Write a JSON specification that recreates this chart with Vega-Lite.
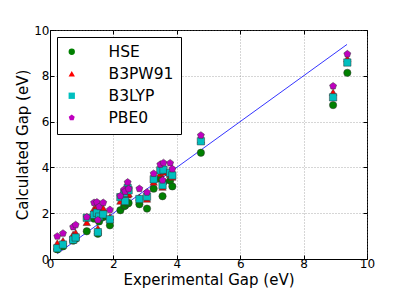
{
  "$schema": "https://vega.github.io/schema/vega-lite/v6.json",
  "width": 317,
  "height": 229,
  "autosize": {"type": "none"},
  "padding": {"left": 50, "top": 30, "right": 40, "bottom": 46},
  "background": "white",
  "config": {
    "font": "DejaVu Sans",
    "view": {"stroke": "black", "strokeWidth": 1},
    "axis": {
      "domainColor": "black",
      "tickColor": "black",
      "tickSize": -4,
      "labelColor": "black",
      "labelFontSize": 12,
      "labelFont": "DejaVu Sans",
      "labelFlush": false,
      "labelOverlap": false,
      "titleFont": "DejaVu Sans",
      "titleFontSize": 15,
      "titleFontWeight": "normal",
      "titleColor": "black",
      "gridColor": "#777777",
      "gridDash": [1, 2],
      "gridWidth": 0.6
    }
  },
  "datasets": {
    "line": [
      {"exp": 0.23, "calc": 0.23},
      {"exp": 9.37, "calc": 9.37}
    ],
    "gaps": [
      {"exp": 0.23, "method": "HSE", "calc": 0.42},
      {"exp": 0.41, "method": "HSE", "calc": 0.55},
      {"exp": 0.73, "method": "HSE", "calc": 0.80},
      {"exp": 0.81, "method": "HSE", "calc": 0.88},
      {"exp": 1.16, "method": "HSE", "calc": 1.21},
      {"exp": 1.39, "method": "HSE", "calc": 1.76},
      {"exp": 1.48, "method": "HSE", "calc": 1.80},
      {"exp": 1.51, "method": "HSE", "calc": 1.10},
      {"exp": 1.55, "method": "HSE", "calc": 1.64},
      {"exp": 1.68, "method": "HSE", "calc": 1.83},
      {"exp": 1.89, "method": "HSE", "calc": 1.47},
      {"exp": 2.22, "method": "HSE", "calc": 2.13},
      {"exp": 2.34, "method": "HSE", "calc": 2.31},
      {"exp": 2.37, "method": "HSE", "calc": 2.33},
      {"exp": 2.45, "method": "HSE", "calc": 2.42},
      {"exp": 2.48, "method": "HSE", "calc": 2.45},
      {"exp": 2.82, "method": "HSE", "calc": 2.39},
      {"exp": 3.06, "method": "HSE", "calc": 2.20},
      {"exp": 3.27, "method": "HSE", "calc": 3.07},
      {"exp": 3.48, "method": "HSE", "calc": 3.50},
      {"exp": 3.55, "method": "HSE", "calc": 2.74},
      {"exp": 3.58, "method": "HSE", "calc": 3.36},
      {"exp": 3.79, "method": "HSE", "calc": 3.42},
      {"exp": 3.86, "method": "HSE", "calc": 3.17},
      {"exp": 4.76, "method": "HSE", "calc": 4.64},
      {"exp": 8.93, "method": "HSE", "calc": 6.72},
      {"exp": 9.38, "method": "HSE", "calc": 8.13},
      {"exp": 0.23, "method": "B3PW91", "calc": 0.70},
      {"exp": 0.41, "method": "B3PW91", "calc": 0.80},
      {"exp": 0.73, "method": "B3PW91", "calc": 1.08},
      {"exp": 0.81, "method": "B3PW91", "calc": 1.15},
      {"exp": 1.16, "method": "B3PW91", "calc": 1.60},
      {"exp": 1.39, "method": "B3PW91", "calc": 2.20},
      {"exp": 1.48, "method": "B3PW91", "calc": 2.30},
      {"exp": 1.51, "method": "B3PW91", "calc": 1.35},
      {"exp": 1.55, "method": "B3PW91", "calc": 2.05},
      {"exp": 1.68, "method": "B3PW91", "calc": 2.22},
      {"exp": 1.89, "method": "B3PW91", "calc": 1.85},
      {"exp": 2.22, "method": "B3PW91", "calc": 2.53},
      {"exp": 2.34, "method": "B3PW91", "calc": 2.90},
      {"exp": 2.37, "method": "B3PW91", "calc": 2.70},
      {"exp": 2.45, "method": "B3PW91", "calc": 2.80},
      {"exp": 2.48, "method": "B3PW91", "calc": 2.85},
      {"exp": 2.82, "method": "B3PW91", "calc": 2.70},
      {"exp": 3.06, "method": "B3PW91", "calc": 2.62},
      {"exp": 3.27, "method": "B3PW91", "calc": 3.36},
      {"exp": 3.48, "method": "B3PW91", "calc": 3.73},
      {"exp": 3.55, "method": "B3PW91", "calc": 3.14},
      {"exp": 3.58, "method": "B3PW91", "calc": 3.80},
      {"exp": 3.79, "method": "B3PW91", "calc": 3.70},
      {"exp": 3.86, "method": "B3PW91", "calc": 3.58},
      {"exp": 4.76, "method": "B3PW91", "calc": 5.20},
      {"exp": 8.93, "method": "B3PW91", "calc": 7.28},
      {"exp": 9.38, "method": "B3PW91", "calc": 8.75},
      {"exp": 0.23, "method": "B3LYP", "calc": 0.47},
      {"exp": 0.41, "method": "B3LYP", "calc": 0.63},
      {"exp": 0.73, "method": "B3LYP", "calc": 0.84},
      {"exp": 0.81, "method": "B3LYP", "calc": 0.94},
      {"exp": 1.16, "method": "B3LYP", "calc": 1.80},
      {"exp": 1.39, "method": "B3LYP", "calc": 1.93},
      {"exp": 1.48, "method": "B3LYP", "calc": 2.02},
      {"exp": 1.51, "method": "B3LYP", "calc": 1.17},
      {"exp": 1.55, "method": "B3LYP", "calc": 1.85},
      {"exp": 1.68, "method": "B3LYP", "calc": 1.95},
      {"exp": 1.89, "method": "B3LYP", "calc": 1.73},
      {"exp": 2.22, "method": "B3LYP", "calc": 2.70},
      {"exp": 2.34, "method": "B3LYP", "calc": 2.88},
      {"exp": 2.37, "method": "B3LYP", "calc": 2.53},
      {"exp": 2.45, "method": "B3LYP", "calc": 3.10},
      {"exp": 2.48, "method": "B3LYP", "calc": 3.00},
      {"exp": 2.82, "method": "B3LYP", "calc": 2.62},
      {"exp": 3.06, "method": "B3LYP", "calc": 2.72},
      {"exp": 3.27, "method": "B3LYP", "calc": 3.48},
      {"exp": 3.48, "method": "B3LYP", "calc": 3.87},
      {"exp": 3.55, "method": "B3LYP", "calc": 3.22},
      {"exp": 3.58, "method": "B3LYP", "calc": 3.90},
      {"exp": 3.79, "method": "B3LYP", "calc": 3.76},
      {"exp": 3.86, "method": "B3LYP", "calc": 3.65},
      {"exp": 4.76, "method": "B3LYP", "calc": 5.14},
      {"exp": 8.93, "method": "B3LYP", "calc": 7.06},
      {"exp": 9.38, "method": "B3LYP", "calc": 8.58},
      {"exp": 0.23, "method": "PBE0", "calc": 0.99},
      {"exp": 0.41, "method": "PBE0", "calc": 1.12},
      {"exp": 0.73, "method": "PBE0", "calc": 1.40},
      {"exp": 0.81, "method": "PBE0", "calc": 1.49},
      {"exp": 1.16, "method": "PBE0", "calc": 1.83},
      {"exp": 1.39, "method": "PBE0", "calc": 2.46},
      {"exp": 1.48, "method": "PBE0", "calc": 2.48},
      {"exp": 1.51, "method": "PBE0", "calc": 1.70},
      {"exp": 1.55, "method": "PBE0", "calc": 2.28},
      {"exp": 1.68, "method": "PBE0", "calc": 2.46},
      {"exp": 1.89, "method": "PBE0", "calc": 2.15},
      {"exp": 2.22, "method": "PBE0", "calc": 2.75},
      {"exp": 2.34, "method": "PBE0", "calc": 3.03},
      {"exp": 2.37, "method": "PBE0", "calc": 2.95},
      {"exp": 2.45, "method": "PBE0", "calc": 3.35},
      {"exp": 2.48, "method": "PBE0", "calc": 3.06},
      {"exp": 2.82, "method": "PBE0", "calc": 3.07},
      {"exp": 3.06, "method": "PBE0", "calc": 2.91},
      {"exp": 3.27, "method": "PBE0", "calc": 3.73},
      {"exp": 3.48, "method": "PBE0", "calc": 4.13},
      {"exp": 3.55, "method": "PBE0", "calc": 3.44},
      {"exp": 3.58, "method": "PBE0", "calc": 4.20},
      {"exp": 3.79, "method": "PBE0", "calc": 4.19},
      {"exp": 3.86, "method": "PBE0", "calc": 3.93},
      {"exp": 4.76, "method": "PBE0", "calc": 5.40},
      {"exp": 8.93, "method": "PBE0", "calc": 7.55},
      {"exp": 9.38, "method": "PBE0", "calc": 8.95}
    ]
  },
  "resolve": {"axis": {"x": "independent", "y": "independent"}},
  "layer": [
    {
      "data": {"name": "line"},
      "mark": {"type": "line", "color": "#0000ff", "strokeWidth": 0.8},
      "encoding": {
        "x": {
          "field": "exp",
          "type": "quantitative",
          "scale": {"domain": [0, 10], "nice": false},
          "axis": {"orient": "top", "values": [0, 2, 4, 6, 8, 10], "labels": false, "title": null, "grid": false, "domain": false}
        },
        "y": {
          "field": "calc",
          "type": "quantitative",
          "scale": {"domain": [0, 10], "nice": false},
          "axis": {"orient": "right", "values": [0, 2, 4, 6, 8, 10], "labels": false, "title": null, "grid": false, "domain": false}
        }
      }
    },
    {
      "data": {"name": "gaps"},
      "mark": {"type": "point", "filled": true, "size": 54, "opacity": 1, "stroke": "#333333", "strokeWidth": 0.5},
      "encoding": {
        "x": {
          "field": "exp",
          "type": "quantitative",
          "scale": {"domain": [0, 10], "nice": false},
          "axis": {"values": [0, 2, 4, 6, 8, 10], "title": "Experimental Gap (eV)", "labelPadding": 3, "titlePadding": 3, "grid": true}
        },
        "y": {
          "field": "calc",
          "type": "quantitative",
          "scale": {"domain": [0, 10], "nice": false},
          "axis": {"values": [0, 2, 4, 6, 8, 10], "title": "Calculated Gap (eV)", "labelPadding": 5, "titlePadding": 3, "grid": true}
        },
        "color": {
          "field": "method",
          "type": "nominal",
          "scale": {"domain": ["HSE", "B3PW91", "B3LYP", "PBE0"], "range": ["#008000", "#ff0000", "#00bfbf", "#bf00bf"]},
          "legend": {"title": null, "orient": "top-left", "offset": 7, "strokeColor": "black", "fillColor": "white", "padding": 7, "labelFontSize": 15.5, "labelFont": "DejaVu Sans", "labelColor": "black", "symbolSize": 40, "labelOffset": 29, "rowPadding": 5, "symbolStrokeColor": "#333333", "symbolStrokeWidth": 0.5, "symbolOpacity": 1}
        },
        "shape": {
          "field": "method",
          "type": "nominal",
          "scale": {"domain": ["HSE", "B3PW91", "B3LYP", "PBE0"], "range": ["circle", "triangle-up", "square", "M0,-1L0.951,-0.309L0.588,0.809L-0.588,0.809L-0.951,-0.309Z"]},
          "legend": {"title": null, "orient": "top-left", "offset": 7, "strokeColor": "black", "fillColor": "white", "padding": 7, "labelFontSize": 15.5, "labelFont": "DejaVu Sans", "labelColor": "black", "symbolSize": 40, "labelOffset": 29, "rowPadding": 5, "symbolStrokeColor": "#333333", "symbolStrokeWidth": 0.5, "symbolOpacity": 1}
        }
      }
    }
  ]
}
